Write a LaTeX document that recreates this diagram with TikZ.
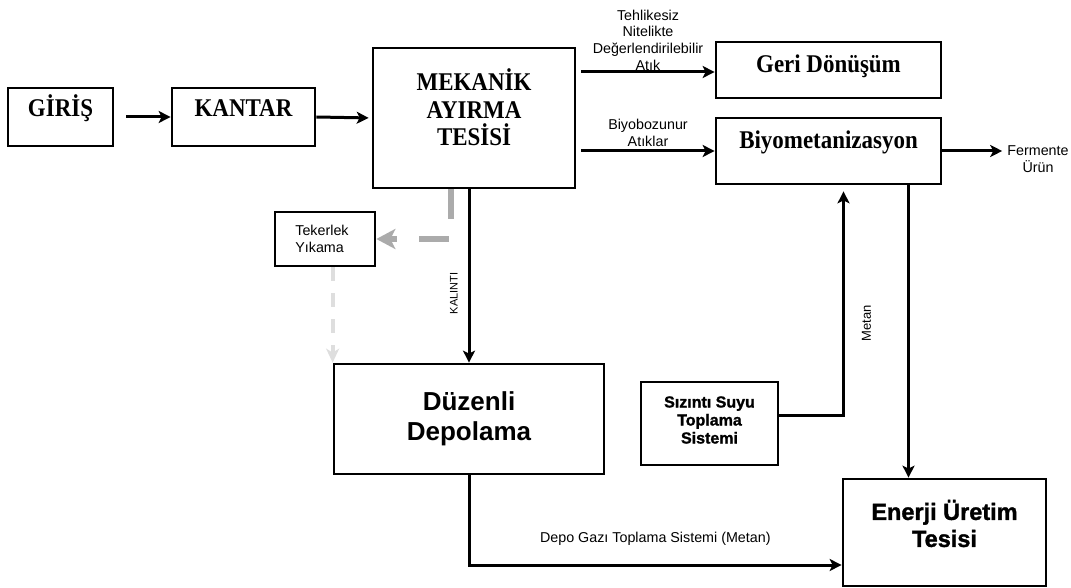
\documentclass[tikz,border=0pt]{standalone}
\usepackage{fontspec}
\setmainfont{Liberation Serif}
\setsansfont{Liberation Sans}
\newfontfamily\headfont{Liberation Serif}[FakeStretch=0.9]
\newfontfamily\heavyfont{Liberation Sans}[BoldFeatures={FakeBold=1.4}]
\usetikzlibrary{positioning,arrows.meta,calc}

\begin{document}
\begin{tikzpicture}[x=1pt, y=-1pt,
        box/.style = {shape=rectangle, draw, line width=2.7pt, inner sep=0pt},
        head/.style = {font=\headfont\bfseries\fontsize{25.5}{27.5}\selectfont, align=center},
        bighead/.style = {font=\heavyfont\bfseries\fontsize{23.5}{27}\selectfont, align=center},
        lbl/.style = {font=\sffamily\fontsize{14.3}{16.7}\selectfont, align=center, inner sep=1pt},
        arr/.style = {line width=3pt, -{Stealth[length=12pt,width=12pt,inset=3pt]}},
        greyarr/.style = {line width=6.5pt, black!33, dash pattern=on 30pt off 22pt,
            -{Stealth[length=19pt,width=20pt,inset=5pt]}},
        lightarr/.style = {line width=4pt, black!13, dash pattern=on 14pt off 12pt,
            -{Stealth[length=14pt,width=13pt,inset=4pt]}}]
    \useasboundingbox (0,0) rectangle (1071,588);

    % main line
    \node[box, minimum width=105pt, minimum height=58pt,
        label={[head, yshift=9pt]center:GİRİŞ}] (giris) at (60.5,117) {};
    \node[box, minimum width=143pt, minimum height=58pt,
        label={[head, yshift=9pt]center:KANTAR}] (kantar) at (243.5,117) {};
    \node[box, minimum width=202pt, minimum height=140pt,
        label={[head, yshift=10.5pt]center:MEKANİK\\AYIRMA\\TESİSİ}] (mekanik) at (474,118) {};

    % outputs of the plant
    \node[box, minimum width=225pt, minimum height=56pt,
        label={[head, yshift=4pt]center:Geri Dönüşüm}] (geri) at (828.5,70) {};
    \node[box, minimum width=225pt, minimum height=66pt,
        label={[head, yshift=9pt]center:Biyometanizasyon}] (biyo) at (828.5,151) {};
    \node[lbl] (fermente) at (1038,159) {Fermente\\Ürün};

    \node[box, minimum width=100pt, minimum height=54pt,
        label={[lbl, align=left, xshift=-3pt]center:Tekerlek\\Yıkama}] (tekerlek) at (325,239) {};
    \node[box, minimum width=270pt, minimum height=110pt,
        font=\sffamily\bfseries\fontsize{26}{30}\selectfont, align=center] (duzenli) at (469,419) {Düzenli\\Depolama};
    \node[box, minimum width=137pt, minimum height=83pt,
        label={[font=\heavyfont\bfseries\fontsize{16}{18}\selectfont, align=center, yshift=3.5pt]center:Sızıntı Suyu\\Toplama\\Sistemi}] (sizinti) at (709.5,423.5) {};
    \node[box, minimum width=203pt, minimum height=107pt,
        label={[bighead, yshift=9pt]center:Enerji Üretim\\Tesisi}] (enerji) at (944.5,532.5) {};

    % connectors
    \draw[arr] ([xshift=12pt]giris.east) -- (kantar.west);
    \draw[arr, shorten >=3pt] (kantar.east) -- (mekanik.west);
    \draw[arr] ([xshift=5pt,yshift=-2pt]mekanik.east |- geri.west) -- ([yshift=-2pt]geri.west)
        node[lbl, midway, above=-1pt] {Tehlikesiz\\Nitelikte\\Değerlendirilebilir\\Atık};
    \draw[arr] ([xshift=5pt]mekanik.east |- biyo.west) -- (biyo.west)
        node[lbl, midway, above=2pt] {Biyobozunur\\Atıklar};
    \draw[arr, shorten >=4pt] (biyo.east) -- (biyo.east -| fermente.west);

    \draw[greyarr] ([xshift=-23pt]mekanik.south) |- (tekerlek.east);
    \draw[lightarr] (tekerlek.south -| duzenli.west) -- (duzenli.north west);
    \draw[arr] (mekanik.south -| duzenli.north) -- (duzenli.north)
        node[pos=.6, rotate=90, anchor=south, inner sep=10pt,
            font=\sffamily\fontsize{11}{13}\selectfont] {KALINTI};

    \draw[arr, shorten >=6pt] ([yshift=8.5pt]sizinti.east) -| ([xshift=15pt]biyo.south)
        node[pos=.7, rotate=90, anchor=north, inner sep=17pt,
            font=\sffamily\fontsize{13}{15}\selectfont] {Metan};
    \draw[arr] ([xshift=80pt]biyo.south) -- ([xshift=80pt]biyo.south |- enerji.north);
    \draw[arr] (duzenli.south) |- ([yshift=-32.5pt]enerji.west)
        node[lbl, pos=.75, above=17pt] {Depo Gazı Toplama Sistemi (Metan)};
\end{tikzpicture}
\end{document}
